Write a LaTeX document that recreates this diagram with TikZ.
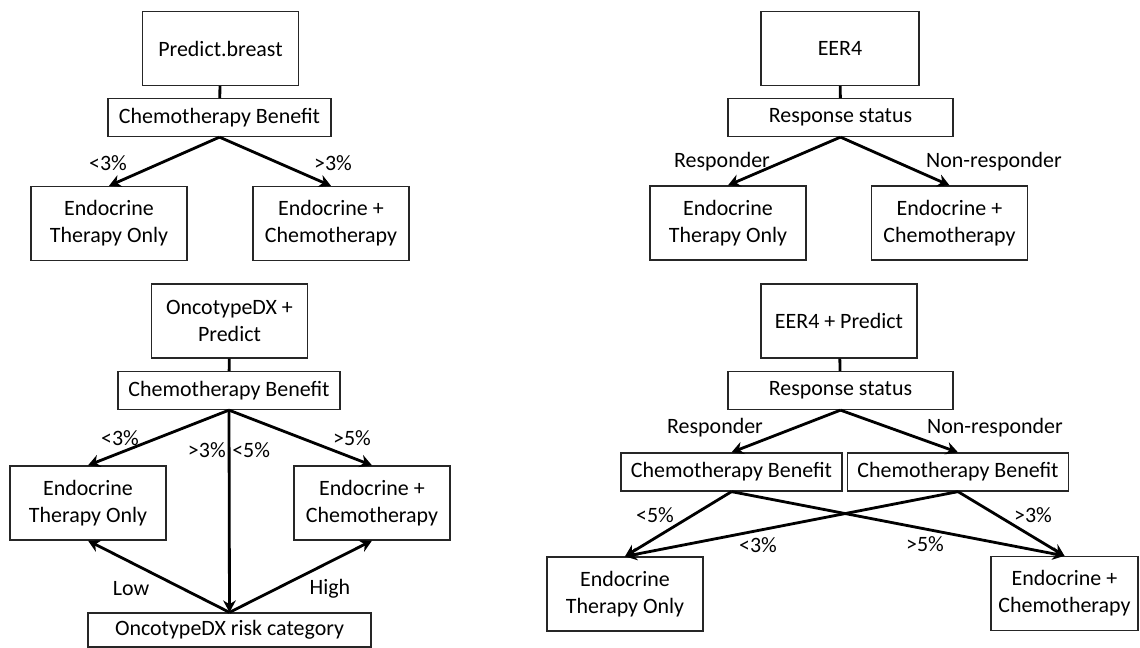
\documentclass[tikz,border=0pt]{standalone}
\usepackage{fontspec}
\setmainfont{Carlito}
\usetikzlibrary{arrows.meta}

\tikzstyle{model} = [rectangle, draw=black!85, line width=0.9pt, minimum width=3.9cm, minimum height=1.85cm, text centered, align=center, inner sep=0pt]
\tikzstyle{split} = [rectangle, draw=black!85, line width=0.9pt, minimum width=5.575cm, minimum height=0.95cm, text centered, inner sep=0pt]
\tikzstyle{therapy} = [model]
\tikzstyle{cond} = [inner sep=0pt]
\tikzstyle{link} = [line width=2pt]
\tikzstyle{arrow} = [->, >={Stealth[length=8.5pt, width=9pt]}, line width=2pt]

\begin{document}
\begin{tikzpicture}[x=0.025cm, y=-0.025cm, font=\fontsize{15.6}{19.2}\selectfont]
		\useasboundingbox (0,0) rectangle (1140,648);
		% Predict.breast
		\node (predict) [model] at (220.5,48.5) {Predict.breast};
		\node (benefitA) [split] at (219.5,117.5) {Chemotherapy Benefit};
		\node (endoA) [therapy] at (109,223.5) {Endocrine\\Therapy Only};
		\node (chemoA) [therapy] at (331,223.5) {Endocrine +\\Chemotherapy};
		\draw [link] (predict) -- (benefitA);
		\draw [arrow] (benefitA.south) -- (endoA.north);
		\draw [arrow] (benefitA.south) -- (chemoA.north);
		\node [cond] at (108,163) {<3\%};
		\node [cond] at (333,163) {>3\%};
		% EER4
		\node (eer) [model, minimum width=3.95cm] at (840,48.5) {EER4};
		\node (statusA) [split, minimum width=5.625cm] at (840.5,117.5) {Response status};
		\node (endoB) [therapy] at (728,223) {Endocrine\\Therapy Only};
		\node (chemoB) [therapy] at (949.5,223) {Endocrine +\\Chemotherapy};
		\draw [link] (eer) -- (statusA);
		\draw [arrow] (statusA.south) -- (endoB.north);
		\draw [arrow] (statusA.south) -- (chemoB.north);
		\node [cond] at (722,162) {Responder};
		\node [cond] at (994,162) {Non-responder};
		% OncotypeDX + Predict
		\node (onco) [model] at (229.5,321) {OncotypeDX +\\Predict};
		\node (benefitB) [split, minimum width=5.55cm] at (229,390.5) {Chemotherapy Benefit};
		\node (endoC) [therapy] at (88,503) {Endocrine\\Therapy Only};
		\node (chemoC) [therapy] at (372,503) {Endocrine +\\Chemotherapy};
		\node (risk) [split, minimum width=7.075cm, minimum height=0.85cm] at (229.5,630) {OncotypeDX risk category};
		\draw [link] (onco) -- (benefitB);
		\draw [arrow] (benefitB.south) -- (endoC.north);
		\draw [arrow] (benefitB.south) -- (chemoC.north);
		\draw [arrow] (benefitB.south) -- (risk.north);
		\draw [arrow] (risk.north) -- (endoC.south);
		\draw [arrow] (risk.north) -- (chemoC.south);
		\node [cond] at (120,438) {<3\%};
		\node [cond, anchor=east] at (226,450) {>3\%};
		\node [cond, anchor=west] at (232,450) {<5\%};
		\node [cond] at (352,438) {>5\%};
		\node [cond] at (131,589) {Low};
		\node [cond] at (330,589) {High};
		% EER4 + Predict
		\node (eerp) [model] at (839,321) {EER4 + Predict};
		\node (statusB) [split, minimum width=5.625cm] at (840.5,390.5) {Response status};
		\node (benefitC) [split, minimum width=5.525cm] at (731.5,472) {Chemotherapy Benefit};
		\node (benefitD) [split, minimum width=5.525cm] at (958,472) {Chemotherapy Benefit};
		\node (endoD) [therapy] at (625,594) {Endocrine\\Therapy Only};
		\node (chemoD) [therapy, minimum width=3.675cm] at (1064.5,593.5) {Endocrine +\\Chemotherapy};
		\draw [link] (eerp) -- (statusB);
		\draw [arrow] (statusB.south) -- (benefitC.north);
		\draw [arrow] (statusB.south) -- (benefitD.north);
		\draw [arrow] (benefitC.south) -- (endoD.north);
		\draw [arrow] (benefitD.south) -- (endoD.north);
		\draw [arrow] (benefitC.south) -- (chemoD.north);
		\draw [arrow] (benefitD.south) -- (chemoD.north);
		\node [cond] at (715,428) {Responder};
		\node [cond] at (995,428) {Non-responder};
		\node [cond] at (655,515) {<5\%};
		\node [cond] at (758,545) {<3\%};
		\node [cond] at (925,544) {>5\%};
		\node [cond] at (1033,515) {>3\%};
	\end{tikzpicture}
\end{document}
